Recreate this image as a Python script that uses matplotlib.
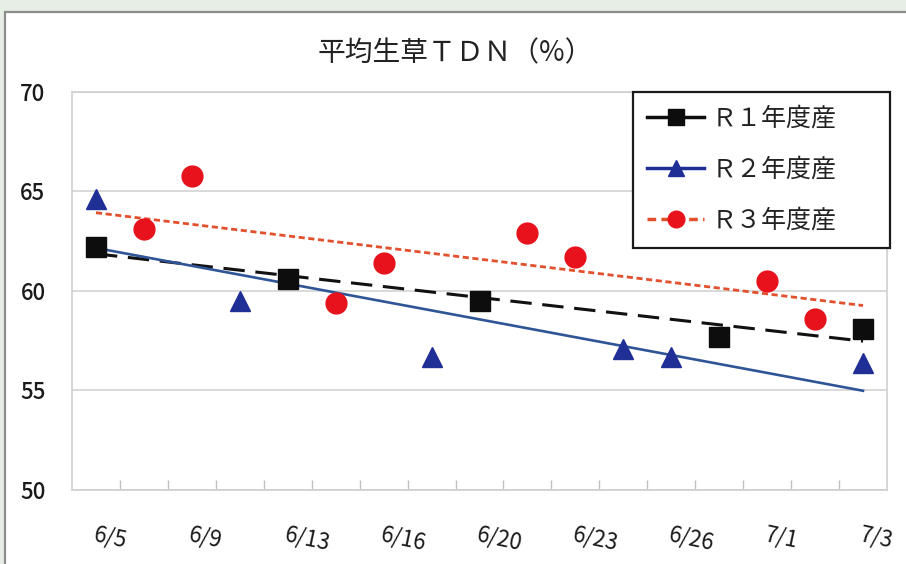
import numpy as np
import matplotlib
matplotlib.use('Agg')
import matplotlib.pyplot as plt
from matplotlib.patches import Rectangle
from matplotlib.lines import Line2D

plt.rcParams['font.family'] = ['Noto Sans CJK JP', 'DejaVu Sans']

nan = np.nan
# 17 sampling dates on a category axis, every second one labelled
n_cat = 17
tick_labels = ['6/5', '6/9', '6/13', '6/16', '6/20', '6/23', '6/26', '7/1', '7/3']

r1 = [62.2, nan, nan, nan, 60.6, nan, nan, nan, 59.5, nan, nan, nan, nan, 57.7, nan, nan, 58.1]
r2 = [64.6, nan, nan, 59.5, nan, nan, nan, 56.7, nan, nan, nan, 57.1, 56.7, nan, nan, nan, 56.4]
r3 = [nan, 63.1, 65.8, nan, nan, 59.4, 61.4, nan, nan, 62.9, 61.7, nan, nan, nan, 60.5, 58.6, nan]

names = ['Ｒ１年度産', 'Ｒ２年度産', 'Ｒ３年度産']
title = '平均生草ＴＤＮ（%）'


def trend(y):
    # linear trendline over category index, like excel
    x = np.arange(n_cat)
    y = np.array(y)
    ok = ~np.isnan(y)
    k, b = np.polyfit(x[ok], y[ok], 1)
    return x, k * x + b


fig = plt.figure(figsize=(9.06, 5.64), dpi=100)
fig.patch.set_facecolor('#e6eee6')
# white chart area with grey frame
fig.patches.append(Rectangle((5 / 906, -0.05), 1.1, 552 / 564 + 0.05, transform=fig.transFigure,
                             facecolor='white', edgecolor='#8c8c8c', lw=1.6, zorder=-5))

ax = fig.add_axes([72 / 906, 1 - 490 / 564, 815 / 906, 398 / 564])
ax.set_facecolor('white')

x = np.arange(n_cat)
# trendlines
tx, ty = trend(r1)
ax.plot(tx, ty, color='#111111', lw=2.2, dashes=(7, 3.5), zorder=3)
tx, ty = trend(r2)
ax.plot(tx, ty, color='#2f5597', lw=1.9, zorder=3)
tx, ty = trend(r3)
ax.plot(tx, ty, color='#e2502e', lw=2.0, dashes=(2.2, 1.3), zorder=3)

# data points
ax.plot(x, r1, ls='none', marker='s', ms=14, color='#0d0d0d', zorder=4)
ax.plot(x, r2, ls='none', marker='^', ms=14, color='#1f2f96', zorder=4)
ax.plot(x, r3, ls='none', marker='o', ms=15, color='#e8121c', zorder=4)

ax.set_xlim(-0.5, n_cat - 0.5)
ax.set_ylim(50, 70)
ax.set_yticks([50, 55, 60, 65, 70])
ax.yaxis.grid(True, color='#d9d9d9', lw=1.4)
ax.set_axisbelow(True)
for s in ax.spines.values():
    s.set_color('#cfcfcf')
    s.set_linewidth(1.2)

ax.tick_params(axis='y', length=0, pad=19, labelsize=16, labelcolor='#1a1a1a')
for lab in ax.get_yticklabels():
    lab.set_fontweight('medium')

ax.set_xticks(np.arange(0, n_cat, 2))
ax.set_xticklabels(tick_labels, rotation=-12, ha='left', va='top', rotation_mode='anchor',
                   fontsize=16, color='#1a1a1a')
ax.set_xticks(np.arange(0.5, n_cat - 1, 1), minor=True)
ax.tick_params(axis='x', which='major', length=0, pad=24)
ax.tick_params(axis='x', which='minor', direction='in', length=7, width=1, color='#bfbfbf')

fig.text(455 / 906, 1 - 53 / 564, title, ha='center', va='center', fontsize=20, color='#222222')

handles = [
    Line2D([], [], color='#0d0d0d', lw=2.5, marker='s', ms=12),
    Line2D([], [], color='#1f2f96', lw=2.5, marker='^', ms=12),
    Line2D([], [], color='#e2502e', lw=2.5, dashes=(2.5, 1.5), marker='o', markerfacecolor='#e8121c',
           markeredgecolor='#e8121c', ms=12),
]
leg = ax.legend(handles, names, loc='upper left', mode='expand',
                bbox_to_anchor=((633 - 72) / 815, 0, (890 - 633) / 815, 1.0),
                borderaxespad=0, fontsize=18, handlelength=2.3, handletextpad=0.3,
                labelspacing=1.0, borderpad=0.55, fancybox=False, framealpha=1, numpoints=1)
leg.get_frame().set_edgecolor('#1a1a1a')
leg.get_frame().set_linewidth(1.6)
for t in leg.get_texts():
    t.set_color('#222222')

fig.savefig('out.png', dpi=100, facecolor=fig.get_facecolor())
